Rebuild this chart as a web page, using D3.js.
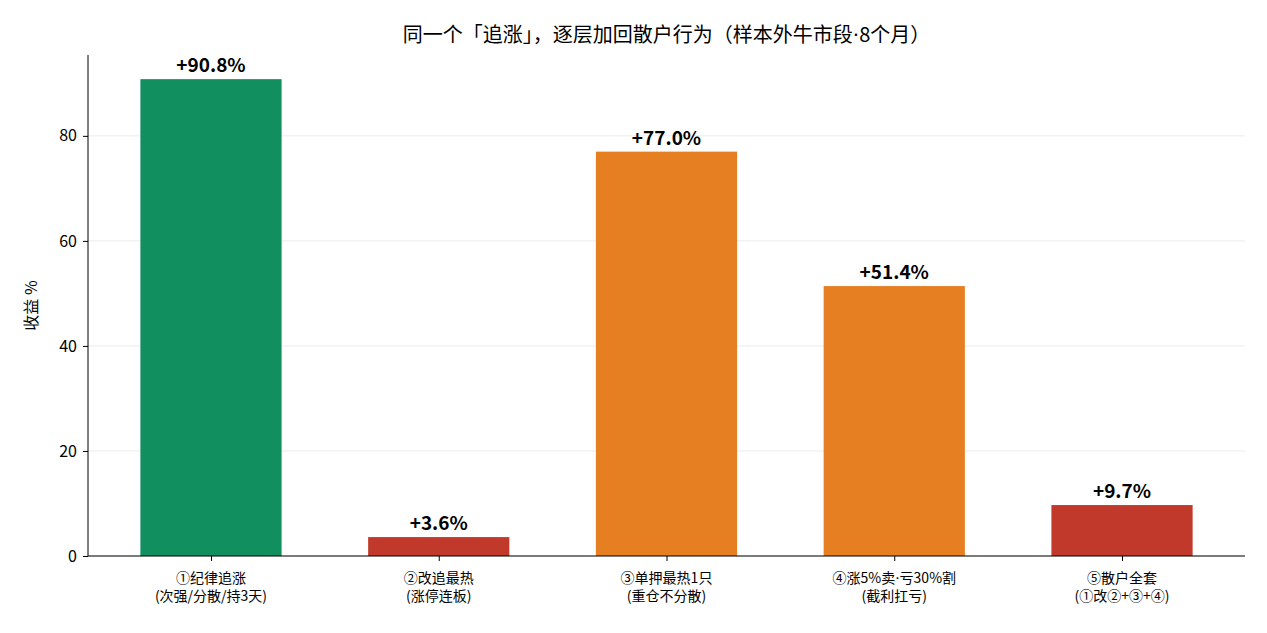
<!DOCTYPE html>
<html><head><meta charset="utf-8">
<script src="https://cdn.jsdelivr.net/npm/d3@7"></script>
<style>body{margin:0;background:#fff}text{font-family:"Noto Sans CJK SC","Noto Sans",sans-serif}</style>
</head><body><svg id="c" width="1267" height="633"></svg>
<script>
var categories = ["①纪律追涨\n(次强/分散/持3天)", "②改追最热\n(涨停连板)", "③单押最热1只\n(重仓不分散)", "④涨5%卖·亏30%割\n(截利扛亏)", "⑤散户全套\n(①改②+③+④)"]
var values = [90.8, 3.6, 77.0, 51.4, 9.7]
var colors = ["#118f5f", "#c0392b", "#e67e22", "#e67e22", "#c0392b"]
var yTicks = [0, 20, 40, 60, 80]

var svg = d3.select("#c")
var m = {left: 88, right: 1245, top: 55, bottom: 556}
var x = d3.scaleLinear().domain([-0.54, 4.54]).range([m.left, m.right])
var y = d3.scaleLinear().domain([0, 95.4]).range([m.bottom, m.top])
var bw = 0.62 * (x(1) - x(0))

// grid
svg.selectAll(".g").data(yTicks).enter().append("line")
    .attr("x1", m.left).attr("x2", m.right)
    .attr("y1", d => y(d)).attr("y2", d => y(d))
    .attr("stroke", "#ebebeb").attr("stroke-width", 1)

svg.selectAll(".b").data(values).enter().append("rect")
    .attr("x", (d, i) => x(i) - bw / 2).attr("width", bw)
    .attr("y", d => y(d)).attr("height", d => y(0) - y(d))
    .attr("fill", (d, i) => colors[i])

svg.selectAll(".v").data(values).enter().append("text")
    .attr("x", (d, i) => x(i)).attr("y", d => y(d) - 7)
    .attr("text-anchor", "middle").attr("font-size", 19).attr("font-weight", "bold")
    .text(d => "+" + d.toFixed(1) + "%")

var ya = svg.append("g").attr("transform", "translate(" + m.left + ",0)")
    .call(d3.axisLeft(y).tickValues(yTicks).tickSize(5).tickPadding(6))
ya.select(".domain").attr("d", "M0," + m.top + "V" + m.bottom)
ya.selectAll("text").attr("font-size", 16).attr("fill", "#000")

var xa = svg.append("g").attr("transform", "translate(0," + m.bottom + ")")
    .call(d3.axisBottom(x).tickValues(d3.range(5)).tickSize(5).tickFormat(""))
xa.select(".domain").attr("d", "M" + m.left + ",0H" + m.right)

// 分类标签：每行一个 text
function addLabel(s, cx, cy, size) {
    var t = svg.append("text").attr("x", cx).attr("y", cy)
        .attr("text-anchor", "middle").attr("font-size", size)
    s.split("·").forEach(function (p, k) {
        if (k) t.append("tspan").attr("font-family", "DejaVu Sans").text("·")
        t.append("tspan").text(p)
    })
}
categories.forEach(function (c, i) {
    c.split("\n").forEach(function (l, j) {
        addLabel(l, x(i), m.bottom + 27 + j * 18, 14)
    })
})

svg.append("text").attr("transform", "translate(37," + ((m.top + m.bottom) / 2) + ") rotate(-90)")
    .attr("text-anchor", "middle").attr("font-size", 16).text("收益 %")
addLabel("同一个「追涨」，逐层加回散户行为（样本外牛市段·8个月）", (m.left + m.right) / 2, 42, 20)
</script></body></html>
